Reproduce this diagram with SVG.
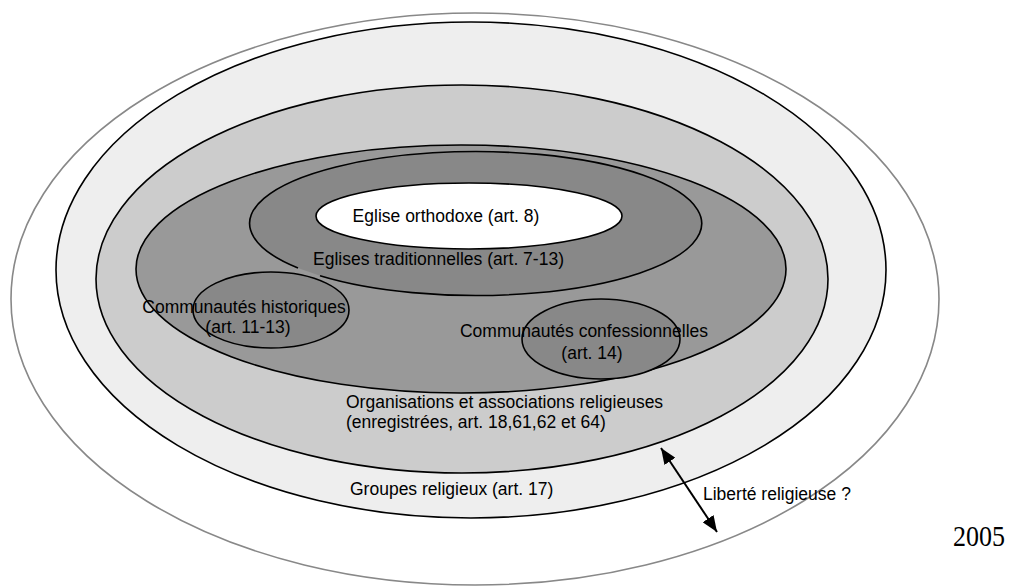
<svg xmlns="http://www.w3.org/2000/svg" width="1016" height="586" viewBox="0 0 1016 586">
<style>
.lbl{font-family:"Liberation Sans",Arial,sans-serif;font-size:17.5px;fill:#000}
.mid{text-anchor:middle}
.blk{stroke:#000;stroke-width:1.6}
</style>
<defs>
<marker id="ah" markerUnits="userSpaceOnUse" markerWidth="17" markerHeight="13" refX="16" refY="6.5" orient="auto-start-reverse">
<path d="M0,0 L16,6.5 L0,13 z" fill="#000"/>
</marker>
</defs>
<rect width="1016" height="586" fill="#fff"/>
<g id="liberte-zone">
<ellipse cx="475" cy="299" rx="464" ry="286" fill="#fff" stroke="#888" stroke-width="1.6"/>
</g>
<g id="groupes">
<ellipse class="blk" cx="471" cy="270" rx="415" ry="248" fill="#eeeeee"/>
<text class="lbl" x="350" y="495">Groupes religieux (art. 17)</text>
</g>
<g id="organisations">
<ellipse class="blk" cx="462" cy="279" rx="366" ry="194" fill="#cccccc"/>
<text class="lbl" x="346" y="408">Organisations et associations religieuses</text>
<text class="lbl" x="346" y="428">(enregistrées, art. 18,61,62 et 64)</text>
</g>
<g id="communautes-zone">
<ellipse class="blk" cx="461" cy="269" rx="325" ry="124" fill="#999999"/>
</g>
<g id="eglises-traditionnelles">
<path d="M298,268 A226,72 0 1 1 320,275.7 Z" fill="#888888"/>
<path d="M298,268 A226,72 0 1 1 320,275.7" fill="none" class="blk"/>
<text class="lbl mid" x="438.5" y="265">Eglises traditionnelles (art. 7-13)</text>
</g>
<g id="eglise-orthodoxe">
<ellipse class="blk" cx="469" cy="216" rx="153" ry="33" fill="#fff"/>
<text class="lbl mid" x="446" y="222">Eglise orthodoxe (art. 8)</text>
</g>
<g id="communautes-historiques">
<ellipse class="blk" cx="271" cy="310" rx="78" ry="38" fill="#888888"/>
<text class="lbl mid" x="244" y="313">Communautés historiques</text>
<text class="lbl mid" x="248" y="333">(art. 11-13)</text>
</g>
<g id="communautes-confessionnelles">
<ellipse class="blk" cx="601" cy="339" rx="79" ry="40" fill="#888888"/>
<text class="lbl mid" x="584" y="337">Communautés confessionnelles</text>
<text class="lbl mid" x="592" y="359">(art. 14)</text>
</g>
<g id="connectors">
<line x1="661" y1="448" x2="717" y2="532" stroke="#000" stroke-width="2" marker-start="url(#ah)" marker-end="url(#ah)"/>
</g>
<g id="liberte-label">
<text class="lbl" x="703" y="500">Liberté religieuse ?</text>
</g>
<g id="year">
<text x="953" y="546" font-family="Liberation Serif,'Times New Roman',serif" font-size="30" textLength="52" lengthAdjust="spacingAndGlyphs" fill="#000">2005</text>
</g>
</svg>
